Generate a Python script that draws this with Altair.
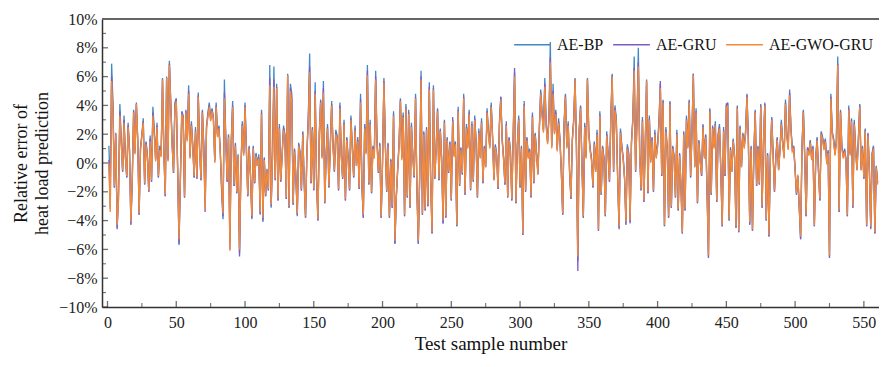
import altair as alt
import pandas as pd

# Relative error (%) of heat load prediction, test samples 1..560
ae_gwo_gru = [
    0.0, -3.4, 5.7, 3.4, -1.6, 2.0, -4.3, -2.6, 3.3, 1.3, -0.5, 2.8, 0.4, -0.9, 2.5, 0.8, -4.1, -1.1, 3.5, 0.6,
    4.1, 1.4, -3.5, 0.9, 1.9, 2.8, -1.4, 1.3, 0.4, -1.9, 1.5, -1.2, 3.3, 2.0, 0.1, 2.5, -0.9, 0.9, 0.4, 5.8,
    0.6, -2.2, 5.9, 0.1, 6.8, 4.0, 1.2, -0.6, 3.8, 4.3, -0.3, -5.3, -1.0, 3.4, 3.1, -2.3, 3.5, 1.5, 4.8, 0.3,
    2.6, 1.1, -0.9, 2.2, -1.0, 4.6, 0.8, -1.1, 3.5, 1.0, -3.3, 2.4, 3.2, 3.9, 2.9, 3.6, 3.0, 0.0, 3.9, 1.8,
    2.4, 0.7, -1.6, -3.5, 4.5, 1.6, -1.2, 1.8, -6.1, 1.4, 3.9, -1.5, 1.2, -2.0, 0.5, -6.0, -0.5, 2.6, 0.5, 3.9,
    0.8, -2.2, 1.0, -0.8, -3.7, 1.0, -1.3, 0.5, -0.2, 0.3, -3.4, 3.4, -3.8, 0.2, -2.2, -0.5, -1.8, 5.4, -2.9, 0.4,
    5.3, -1.1, 5.2, -2.5, 2.4, -1.2, 0.5, 2.3, 1.8, -2.4, 6.1, -3.0, 5.0, 4.2, -2.8, 0.8, -0.9, -3.5, 1.2, 0.6,
    -1.8, 2.0, -1.2, -3.7, 0.6, 2.9, 6.3, -1.3, 2.3, -1.8, 4.8, -1.0, -3.9, 1.9, 4.2, 0.3, 4.9, -2.7, 0.5, 2.4,
    -1.6, 1.0, 4.0, 1.1, -0.5, 2.0, 1.7, -1.8, 3.8, 0.4, -1.0, 2.7, -2.5, 1.6, 0.2, -1.8, 3.0, 1.0, -0.9, 2.3,
    -0.2, 1.5, -1.7, 4.2, -1.5, -3.6, 2.4, 0.6, 6.1, -1.4, 2.7, -2.0, 1.0, 0.3, 5.8, 1.3, -0.6, 1.2, -3.7, 0.0,
    5.6, 1.3, -1.9, 1.2, -3.7, 0.1, -3.0, 3.3, -5.4, -2.3, -0.5, 1.2, 4.3, 0.2, 3.2, -3.6, 3.8, -2.3, 3.4, -3.0,
    2.5, 0.4, -0.9, 4.5, -1.8, -5.4, -0.9, 5.8, -3.5, 2.0, -3.2, 2.3, -2.9, 5.1, -1.2, -4.8, 5.1, -1.0, 1.0, 3.6,
    -1.1, 2.2, 0.1, -4.0, 2.8, -3.7, 1.6, -0.6, 1.3, -2.5, 2.9, 0.4, 1.3, -4.3, 3.6, -1.5, 0.9, -0.7, 4.5, -2.1,
    2.4, 1.0, 3.4, -1.8, 2.6, -1.2, 3.0, 1.4, -2.3, 2.1, 0.3, 2.8, -1.3, 1.0, -0.3, 3.5, 2.0, 1.0, 3.9, 1.7,
    -1.2, 1.1, 0.4, -1.7, 2.6, 4.4, 1.5, 0.2, -1.4, 2.6, -2.3, 1.6, 0.7, -2.5, 1.7, 6.0, -2.7, 1.1, 3.0, -1.6,
    1.0, -4.9, 4.0, -1.9, 1.6, 0.3, 0.8, -2.3, 3.2, -1.3, 1.9, 0.5, -0.8, 2.2, 4.8, 3.3, 2.1, 5.3, 2.5, 1.3,
    3.0, 7.0, 1.0, 4.8, 2.0, 3.4, 0.8, 2.8, 1.5, -0.5, -3.5, 2.5, 4.6, 1.0, 2.6, -0.5, -2.4, 1.5, 2.8, 5.8,
    1.0, -6.5, 2.2, 3.8, -0.2, -3.7, 2.5, 0.3, 5.8, 1.9, 0.8, 0.1, -1.6, 1.3, -0.6, 2.0, -4.6, 3.3, -2.1, 1.0,
    0.2, -3.6, 1.9, 0.5, -1.2, 3.0, 6.0, -0.5, 3.7, 2.8, -1.1, -4.4, 2.1, 1.0, 0.2, -1.0, -4.1, 1.0, 0.5, -4.0,
    1.3, 2.9, 6.4, -0.5, 2.8, 6.7, 0.5, -1.8, 2.9, -2.6, 1.0, 5.7, -2.0, 3.0, 0.0, 1.6, -1.9, 2.0, 0.3, 1.1,
    2.6, 5.2, -0.8, 4.2, -4.3, 2.2, 0.9, -3.7, 4.1, -3.0, 1.0, 0.3, -2.3, 2.0, -3.2, 0.5, -1.5, -4.8, 2.0, -3.2,
    3.0, 1.0, 4.2, -0.9, 2.0, 6.1, -0.3, 3.5, -2.7, 1.4, 0.0, -0.8, 2.5, 0.3, 1.8, -2.0, -6.4, 3.6, -2.1, 2.4,
    1.0, 2.6, -2.6, 1.8, 2.4, -0.5, -4.3, 2.2, -0.8, 3.8, 4.0, -3.9, 0.9, -0.6, 1.5, 0.3, -4.4, 3.8, -4.7, 2.4,
    -0.3, 1.9, 1.0, 2.0, 4.6, 1.5, -4.1, 1.0, -4.6, 0.5, 3.5, -1.5, 1.0, -1.4, 3.9, -3.0, 1.4, 4.0, -3.9, 0.5,
    -5.0, 0.3, 3.0, 0.5, -1.9, 0.3, 1.6, -0.5, 0.8, 2.7, 1.2, 0.3, 4.1, 1.8, 0.9, 4.7, 2.2, 0.8, 1.0, -0.5,
    -2.1, -0.8, -3.0, -5.1, 1.0, 3.5, 0.3, -3.6, 0.9, 0.5, 1.4, 0.2, 1.0, -4.3, 0.2, 1.6, -0.6, -2.5, 2.0, 1.6,
    0.9, 1.5, -0.1, 0.7, -6.4, 4.5, 2.0, 1.5, 0.5, 1.4, 6.8, -3.3, 3.5, 1.0, 0.3, 0.8, 0.1, -3.6, 3.7, 0.5,
    2.9, -3.0, 2.7, 0.8, -0.5, 1.5, 3.9, -0.5, 1.0, -1.0, 2.2, -4.3, 1.9, -0.5, -4.4, 0.5, 1.0, -4.8, -0.3, -1.5,
]

ae_bp = [
    1.2, -1.8, 6.9, 4.1, -1.7, 2.1, -4.5, -2.0, 4.1, 1.6, -0.6, 3.3, 0.5, -1.0, 2.8, 1.0, -4.2, -1.3, 3.7, 0.9,
    4.2, 1.7, -3.6, 1.1, 2.0, 3.1, -1.5, 1.5, 0.6, -2.0, 1.9, -1.3, 3.9, 2.4, 0.3, 2.8, -1.0, 1.2, 0.6, 5.9,
    0.8, -2.3, 6.0, 0.3, 7.1, 4.3, 1.4, -0.7, 4.2, 4.5, -0.4, -5.7, -1.1, 3.6, 3.3, -2.4, 3.7, 1.7, 5.4, 0.5,
    2.9, 1.3, -1.0, 2.5, -1.1, 4.9, 1.0, -1.2, 3.7, 1.3, -2.8, 2.6, 3.5, 4.2, 3.1, 3.8, 3.2, 0.2, 4.2, 2.0,
    2.6, 0.9, -2.0, -3.9, 5.8, 1.8, -1.3, 2.0, -5.5, 1.7, 4.3, -1.6, 1.4, -2.1, 0.6, -6.3, -0.6, 2.9, 0.7, 4.2,
    1.1, -2.3, 1.2, -0.9, -3.9, 1.2, -1.4, 0.7, -0.1, 0.6, -3.6, 3.7, -4.1, 0.4, -2.3, -0.4, -1.9, 6.8, -3.1, 0.6,
    6.7, -1.2, 5.5, -2.6, 2.7, -1.3, 0.7, 2.6, 2.0, -2.5, 6.2, -3.1, 5.5, 4.8, -2.9, 1.0, -1.0, -3.7, 1.4, 0.8,
    -1.9, 2.2, -1.3, -3.8, 0.8, 3.2, 7.6, -1.4, 2.5, -1.9, 5.6, -1.1, -4.0, 2.1, 4.4, 0.5, 5.7, -2.8, 0.7, 2.7,
    -1.7, 1.2, 4.3, 1.3, -0.6, 2.3, 1.9, -1.9, 4.2, 0.6, -1.1, 3.0, -2.6, 1.8, 0.4, -1.9, 3.3, 1.2, -1.0, 2.6,
    -0.1, 1.8, -1.8, 4.8, -1.6, -3.8, 2.7, 0.8, 6.8, -1.5, 3.0, -2.1, 1.2, 0.5, 6.4, 1.5, -0.7, 1.4, -3.8, 0.2,
    5.9, 1.5, -2.0, 1.4, -3.8, 0.3, -3.1, 3.6, -5.6, -2.4, -0.4, 1.4, 4.5, 0.4, 3.5, -3.7, 4.1, -2.4, 3.7, -3.1,
    2.8, 0.6, -1.0, 4.8, -1.9, -5.6, -1.0, 6.4, -3.6, 2.2, -3.3, 2.5, -3.0, 5.6, -1.3, -4.9, 5.4, -1.1, 1.2, 3.8,
    -1.2, 2.4, 0.3, -4.2, 3.0, -3.8, 1.8, -0.7, 1.5, -2.6, 3.2, 0.6, 1.5, -4.4, 3.9, -1.6, 1.1, -0.8, 4.8, -2.2,
    2.7, 1.2, 3.7, -1.9, 2.9, -1.3, 3.3, 1.6, -2.4, 2.4, 0.5, 3.1, -1.4, 1.2, -0.2, 3.8, 2.2, 1.2, 4.2, 1.9,
    -1.1, 1.3, 0.6, -1.8, 2.9, 4.6, 1.7, 0.4, -1.5, 2.9, -2.4, 1.8, 0.9, -2.6, 2.0, 6.3, -2.8, 1.3, 3.3, -1.7,
    1.2, -5.0, 4.3, -2.0, 1.8, 0.5, 1.0, -2.4, 3.5, -1.4, 2.1, 0.7, -0.7, 2.5, 5.1, 3.6, 2.3, 5.9, 2.8, 1.5,
    3.3, 8.4, 1.2, 5.5, 2.2, 3.7, 1.0, 3.1, 1.7, -0.6, -3.6, 2.8, 4.8, 1.2, 2.9, -0.6, -2.5, 1.7, 3.1, 5.9,
    1.2, -6.8, 2.4, 4.0, 0.0, -3.8, 2.8, 0.5, 5.9, 2.1, 1.0, 0.3, -1.7, 1.5, -0.5, 2.3, -4.7, 3.6, -2.2, 1.2,
    0.4, -3.7, 2.2, 0.7, -1.3, 3.3, 6.2, -0.6, 4.0, 3.1, -1.2, -4.5, 2.4, 1.2, 0.4, -1.1, -4.2, 1.3, 0.7, -4.1,
    1.5, 3.1, 7.4, -0.6, 3.0, 8.0, 0.7, -1.9, 3.2, -2.7, 1.2, 5.8, -2.1, 3.3, 0.2, 1.8, -2.0, 2.3, 0.5, 1.4,
    2.9, 5.5, -0.9, 4.4, -4.4, 2.5, 1.1, -3.8, 4.3, -3.1, 1.2, 0.5, -2.4, 2.3, -3.3, 0.7, -1.6, -4.9, 2.2, -3.3,
    3.3, 1.2, 4.4, -1.0, 2.2, 6.2, -0.2, 3.8, -2.8, 1.6, 0.2, -0.9, 2.7, 0.5, 2.0, -2.1, -6.5, 3.8, -2.2, 2.6,
    1.2, 2.9, -2.7, 2.0, 2.7, -0.6, -4.4, 2.5, -0.9, 4.0, 4.2, -4.0, 1.1, -0.5, 1.7, 0.5, -4.5, 4.0, -4.8, 2.6,
    -0.2, 2.1, 1.2, 2.3, 4.8, 1.7, -4.2, 1.2, -4.7, 0.7, 3.7, -1.6, 1.2, -1.5, 4.1, -3.1, 1.6, 4.2, -4.0, 0.7,
    -5.1, 0.5, 3.2, 0.7, -2.0, 0.5, 1.8, -0.4, 1.0, 3.0, 1.4, 0.5, 4.4, 2.0, 1.1, 5.1, 2.4, 1.0, 1.2, -0.4,
    -2.2, -0.9, -3.1, -5.3, 1.2, 3.7, 0.5, -3.7, 1.1, 0.7, 1.6, 0.4, 1.2, -4.4, 0.4, 1.8, -0.5, -2.6, 2.2, 1.8,
    1.1, 1.7, 0.1, 0.9, -6.5, 4.8, 2.2, 1.7, 0.7, 1.6, 7.4, -3.4, 3.7, 1.2, 0.5, 1.0, 0.3, -3.7, 4.0, 0.7,
    3.1, -3.1, 3.0, 1.0, -0.4, 1.7, 4.1, -0.4, 1.2, -1.1, 2.4, -4.4, 2.1, -0.4, -4.5, 0.7, 1.2, -4.9, -0.2, -1.3,
]

ae_gru = [
    0.2, -3.2, 6.0, 3.7, -1.7, 2.0, -4.6, -2.4, 3.6, 1.4, -0.6, 3.0, 0.4, -1.0, 2.6, 0.9, -4.3, -1.2, 3.6, 0.7,
    4.1, 1.5, -3.6, 1.0, 1.9, 2.9, -1.5, 1.4, 0.5, -2.0, 1.7, -1.3, 3.5, 2.1, 0.2, 2.6, -1.0, 1.0, 0.5, 5.8,
    0.7, -2.3, 5.9, 0.2, 6.9, 4.1, 1.3, -0.7, 3.9, 4.4, -0.4, -5.6, -1.1, 3.5, 3.2, -2.4, 3.6, 1.6, 5.0, 0.4,
    2.7, 1.2, -1.0, 2.3, -1.1, 4.7, 0.9, -1.2, 3.6, 1.1, -3.4, 2.5, 3.3, 4.0, 3.0, 3.7, 3.1, 0.1, 4.0, 1.9,
    2.5, 0.8, -1.8, -3.7, 4.9, 1.7, -1.3, 1.9, -6.0, 1.5, 4.0, -1.6, 1.3, -2.1, 0.5, -6.5, -0.6, 2.7, 0.6, 4.0,
    0.9, -2.3, 1.1, -0.9, -3.8, 1.1, -1.4, 0.6, -0.2, 0.4, -3.5, 3.5, -4.0, 0.3, -2.3, -0.5, -1.9, 5.9, -3.0, 0.5,
    5.8, -1.2, 5.3, -2.6, 2.5, -1.3, 0.6, 2.4, 1.9, -2.5, 6.1, -3.1, 5.2, 4.5, -2.9, 0.9, -1.0, -3.6, 1.3, 0.7,
    -1.9, 2.1, -1.3, -3.8, 0.7, 3.0, 6.7, -1.4, 2.4, -1.9, 5.0, -1.1, -4.0, 2.0, 4.3, 0.4, 5.2, -2.8, 0.6, 2.5,
    -1.7, 1.1, 4.1, 1.2, -0.6, 2.1, 1.8, -1.9, 4.0, 0.5, -1.1, 2.8, -2.6, 1.7, 0.3, -1.9, 3.1, 1.1, -1.0, 2.4,
    -0.2, 1.6, -1.8, 4.5, -1.6, -3.8, 2.5, 0.7, 6.4, -1.5, 2.8, -2.1, 1.1, 0.4, 6.0, 1.4, -0.7, 1.3, -3.8, 0.1,
    5.7, 1.4, -2.0, 1.3, -3.8, 0.2, -3.1, 3.4, -5.6, -2.4, -0.5, 1.3, 4.4, 0.3, 3.3, -3.7, 3.9, -2.4, 3.5, -3.1,
    2.6, 0.5, -1.0, 4.6, -1.9, -5.6, -1.0, 6.0, -3.6, 2.1, -3.3, 2.4, -3.0, 5.3, -1.3, -4.9, 5.2, -1.1, 1.1, 3.7,
    -1.2, 2.3, 0.2, -4.2, 2.9, -3.8, 1.7, -0.7, 1.4, -2.6, 3.0, 0.5, 1.4, -4.4, 3.7, -1.6, 1.0, -0.8, 4.6, -2.2,
    2.5, 1.1, 3.5, -1.9, 2.7, -1.3, 3.1, 1.5, -2.4, 2.2, 0.4, 2.9, -1.4, 1.1, -0.3, 3.6, 2.1, 1.1, 4.0, 1.8,
    -1.2, 1.2, 0.5, -1.8, 2.7, 4.6, 1.6, 0.3, -1.5, 2.7, -2.4, 1.7, 0.8, -2.6, 1.8, 6.6, -2.8, 1.2, 3.1, -1.7,
    1.1, -5.0, 4.1, -2.0, 1.7, 0.4, 0.9, -2.4, 3.3, -1.4, 2.0, 0.6, -0.8, 2.3, 4.9, 3.4, 2.2, 5.5, 2.6, 1.4,
    3.1, 7.3, 1.1, 5.0, 2.1, 3.5, 0.9, 2.9, 1.6, -0.6, -3.6, 2.6, 4.7, 1.1, 2.7, -0.6, -2.5, 1.6, 2.9, 5.8,
    1.1, -7.5, 2.3, 3.9, -0.1, -3.8, 2.6, 0.4, 5.8, 2.0, 0.9, 0.2, -1.7, 1.4, -0.6, 2.1, -4.7, 3.4, -2.2, 1.1,
    0.3, -3.7, 2.0, 0.6, -1.3, 3.1, 6.1, -0.6, 3.8, 2.9, -1.2, -4.6, 2.2, 1.1, 0.3, -1.1, -4.3, 1.1, 0.6, -4.2,
    1.4, 3.0, 6.6, -0.6, 2.9, 7.0, 0.6, -1.9, 3.0, -2.7, 1.1, 5.7, -2.1, 3.1, 0.1, 1.7, -2.0, 2.1, 0.4, 1.2,
    2.7, 5.7, -0.9, 4.3, -4.4, 2.3, 1.0, -3.8, 4.2, -3.1, 1.1, 0.4, -2.4, 2.1, -3.3, 0.6, -1.6, -4.9, 2.1, -3.3,
    3.1, 1.1, 4.3, -1.0, 2.1, 6.2, -0.3, 3.6, -2.8, 1.5, 0.1, -0.9, 2.6, 0.4, 1.9, -2.1, -6.6, 3.7, -2.2, 2.5,
    1.1, 2.7, -2.7, 1.9, 2.5, -0.6, -4.4, 2.3, -0.9, 4.1, 4.1, -4.0, 1.0, -0.6, 1.6, 0.4, -4.5, 3.9, -4.8, 2.5,
    -0.3, 2.0, 1.1, 2.1, 4.7, 1.6, -4.3, 1.1, -4.7, 0.6, 3.6, -1.6, 1.1, -1.5, 4.0, -3.1, 1.5, 4.1, -4.0, 0.6,
    -5.1, 0.4, 3.1, 0.6, -2.0, 0.4, 1.7, -0.5, 0.9, 2.8, 1.3, 0.4, 4.2, 1.9, 1.0, 4.9, 2.3, 0.9, 1.1, -0.5,
    -2.2, -0.9, -3.1, -5.3, 1.1, 3.6, 0.4, -3.7, 1.0, 0.6, 1.5, 0.3, 1.1, -4.4, 0.3, 1.7, -0.6, -2.6, 2.1, 1.7,
    1.0, 1.6, 0.0, 0.8, -6.6, 4.6, 2.1, 1.6, 0.6, 1.5, 6.9, -3.4, 3.6, 1.1, 0.4, 0.9, 0.2, -3.7, 3.8, 0.6,
    3.0, -3.1, 2.8, 0.9, -0.5, 1.6, 4.0, -0.5, 1.1, -1.1, 2.3, -4.4, 2.0, -0.5, -4.6, 0.6, 1.1, -4.9, -0.3, -1.4,
]

series_names = ["AE-BP", "AE-GRU", "AE-GWO-GRU"]
series_colors = ["#4189c6", "#7e5cc4", "#f28a3a"]
y_tick_labels = list(range(-10, 11, 2))
x_tick_labels = list(range(0, 551, 50))
y_minor = list(range(-10, 11, 1))
x_minor = list(range(0, 561, 25))

n = min(len(ae_bp), len(ae_gru), len(ae_gwo_gru))
df = pd.DataFrame({
    "sample": list(range(1, n + 1)),
    "AE-BP": ae_bp[:n],
    "AE-GRU": ae_gru[:n],
    "AE-GWO-GRU": ae_gwo_gru[:n],
})

W, H = 777, 288
FONT = "Liberation Serif"

xscale = alt.Scale(domain=[-4, 561], nice=False, zero=False)
yscale = alt.Scale(domain=[-10, 10], nice=False)
cscale = alt.Scale(domain=series_names, range=series_colors)

xaxis = alt.Axis(values=x_tick_labels, title="Test sample number", labelPadding=7,
                 titlePadding=4, labelFlush=False, titleFontSize=19)
yaxis = alt.Axis(values=y_tick_labels, title=["Relative error of", "heat load prediction"],
                 labelExpr="(datum.value < 0 ? '−' : '') + abs(datum.value) + '%'",
                 labelPadding=5, titlePadding=7, titleLineHeight=21, titleFontSize=18)

legend = alt.Legend(orient="top-right", direction="horizontal", title=None,
                    symbolType="stroke", symbolSize=1350, symbolStrokeWidth=1.5,
                    labelFont=FONT, labelFontSize=16, labelColor="#111",
                    columnPadding=6, labelOffset=5, offset=6, padding=0)


def line(name):
    return alt.Chart(df).transform_calculate(
        series=f"'{name}'"
    ).mark_line(strokeWidth=1.3, clip=True).encode(
        x=alt.X("sample:Q", scale=xscale, axis=xaxis),
        y=alt.Y(f"{name}:Q", scale=yscale, axis=yaxis),
        color=alt.Color("series:N", scale=cscale, legend=legend),
    )


ytick_df = pd.DataFrame({"v": y_minor, "major": [v % 2 == 0 for v in y_minor]})
xtick_df = pd.DataFrame({"v": x_minor, "major": [v % 50 == 0 for v in x_minor]})

ymaj = alt.Chart(ytick_df).transform_filter("datum.major").mark_tick(
    orient="horizontal", size=6, thickness=1.3, color="#333").encode(
    y=alt.Y("v:Q", scale=yscale, axis=yaxis), x=alt.value(3))
ymin = alt.Chart(ytick_df).transform_filter("!datum.major").mark_tick(
    orient="horizontal", size=4, thickness=1.1, color="#333").encode(
    y=alt.Y("v:Q", scale=yscale, axis=yaxis), x=alt.value(2))
xmaj = alt.Chart(xtick_df).transform_filter("datum.major").mark_tick(
    orient="vertical", size=6, thickness=1.3, color="#333").encode(
    x=alt.X("v:Q", scale=xscale, axis=xaxis), y=alt.value(H - 3))
xmin = alt.Chart(xtick_df).transform_filter("!datum.major").mark_tick(
    orient="vertical", size=4, thickness=1.1, color="#333").encode(
    x=alt.X("v:Q", scale=xscale, axis=xaxis), y=alt.value(H - 2))
top_border = alt.Chart(df).mark_rule(color="#666", strokeWidth=1.5).encode(
    y=alt.value(0), x=alt.value(0), x2=alt.value(W))

chart = alt.layer(
    line("AE-BP"), line("AE-GRU"), line("AE-GWO-GRU"),
    ymaj, ymin, xmaj, xmin, top_border,
).properties(
    width=W, height=H,
    autosize=alt.AutoSizeParams(type="none"),
    padding={"left": 94, "top": 11, "right": 0, "bottom": 49},
).configure_view(stroke=None).configure_axis(
    labelFont=FONT, titleFont=FONT, labelFontSize=16, titleFontSize=18,
    titleFontWeight="normal", labelColor="#222", titleColor="#111",
    domainColor="#333", domainWidth=1.5, tickSize=0, ticks=False, grid=False,
)

chart.save("out.html", embed_options={"renderer": "svg", "actions": False})
